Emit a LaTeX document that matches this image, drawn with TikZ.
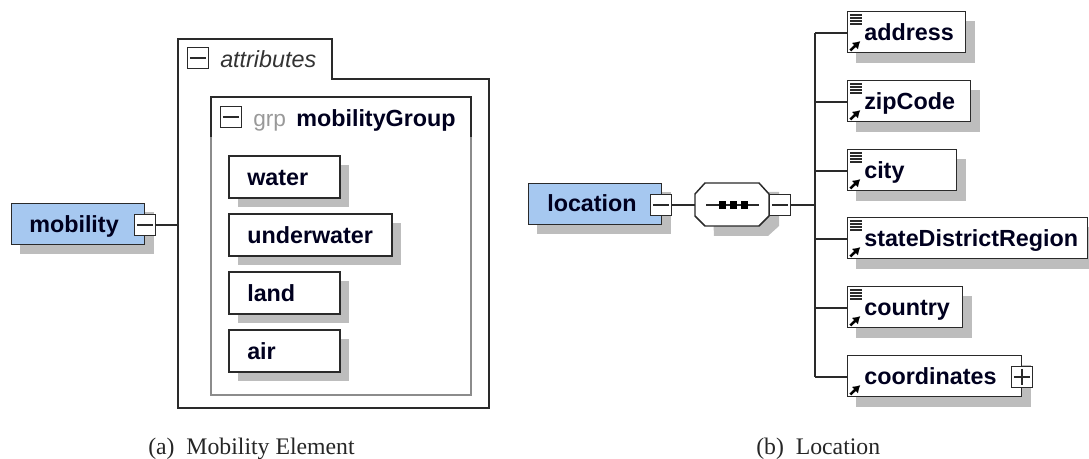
\documentclass[tikz,border=0pt]{standalone}
\usepackage{fontspec}
\setmainfont{Liberation Serif}
\setsansfont{Liberation Sans}
\usetikzlibrary{positioning,arrows.meta}
\definecolor{elemBlue}{HTML}{A6C8F0}
\definecolor{shadowGrey}{HTML}{BDBDBD}
\definecolor{lineDark}{HTML}{2A2A2A}

\newcommand{\pmBox}[2]{%
  \node [toggle] (#1) at (#2) {};
  \draw [toggleMark] (#1.west) -- (#1.east);
}
\newcommand{\arrowMark}[1]{%
  \draw [black,line width=1.9pt,-{Latex[length=5.5pt,width=7pt]}] ([xshift=2.5pt,yshift=2pt]#1.south west) -- ++(7.5pt,7pt);
}

\begin{document}
\begin{tikzpicture}[
    x=0.75pt,
    y=-0.75pt,
    elem/.style={%
      draw=lineDark,
      rectangle,
      line width=1.1pt,
      fill=white,
      minimum height=30.5pt,
      inner sep=0pt,
    },
    boldText/.style={%
      anchor=base west,
      inner sep=0pt,
      font=\sffamily\bfseries\fontsize{17.5}{19}\selectfont,
      text=black!88!blue,
    },
    toggle/.style={%
      draw=lineDark,
      rectangle,
      line width=1.1pt,
      fill=white,
      minimum width=16pt,
      minimum height=16pt,
      inner sep=0pt,
    },
    toggleMark/.style={%
      draw=lineDark,
      line width=0.9pt,
      shorten <=2.5pt,
      shorten >=2.5pt,
    },
    conn/.style={%
      draw=lineDark,
      line width=1.1pt,
    },
    caption/.style={%
      anchor=base west,
      font=\rmfamily\fontsize{17.8}{20}\selectfont,
      text=black!85,
      inner sep=0pt,
    },
  ]
    \useasboundingbox (0,0) rectangle (1089,459);

    % left part
    \fill [shadowGrey] (20,212) rectangle (154,254);
    \node [elem,fill=elemBlue,minimum width=99.5pt] (mobility) at (78,224) {};
    \node [boldText] (mobilityLabel) at (29,233) {mobility};
    \pmBox{mobilityToggle}{145,225}

    \draw [conn] (178,39) -- (332,39) -- (332,79) -- (489,79) -- (489,408) -- (178,408) -- cycle;
    \coordinate (attrEdge) at (178,225);
    \draw [conn] (mobilityToggle) -- (attrEdge);
    \pmBox{attrToggle}{198,58}
    \node [anchor=base west,inner sep=0pt,font=\sffamily\itshape\fontsize{17.5}{19}\selectfont,text=black!80] (attrLabel) at (220,68) {attributes};

    \draw [black!45,line width=1.1pt] (211,137) -- (211,395) -- (471,395) -- (471,137);
    \draw [conn] (211,137) -- (211,97) -- (471,97) -- (471,137);
    \pmBox{grpToggle}{231,117}
    \node [anchor=base west,inner sep=0pt,font=\sffamily\fontsize{17}{19}\selectfont,text=black!40] (grpLabel) at (253,127) {grp};
    \node [boldText] (grpName) at (296,127) {mobilityGroup};

    \foreach \nm/\xa/\ya/\xb in {water/229/156/340,underwater/229/214/392,land/229/272/340,air/229/330/340} {
      \fill [shadowGrey] (\xa+9,\ya+9) rectangle (\xb+9,\ya+51);
      \draw [conn,fill=white] (\xa,\ya) rectangle (\xb,\ya+42);
      \node [boldText] (\nm) at (\xa+18,\ya+30) {\nm};
    }

    % right part
    \fill [shadowGrey] (537,192) rectangle (671,234);
    \node [elem,fill=elemBlue,minimum width=99.5pt] (location) at (595,204) {};
    \node [boldText] (locationLabel) at (547,212) {location};
    \pmBox{locationToggle}{661,205}

    \fill [shadowGrey] (712,192) -- (779,192) -- (779,226) -- (768,236) -- (714,236) -- cycle;
    \draw [conn,fill=white] (695,194) -- (705,183) -- (759,183) -- (769,194) -- (769,216) -- (759,226) -- (705,226) -- (695,216) -- cycle;
    \coordinate (seqLeft) at (695,205);
    \draw [conn] (locationToggle) -- (seqLeft);
    \draw [conn] (706,205) -- (759,205);
    \foreach \x in {722,733,744} \fill [black] (\x-3.5,201) rectangle (\x+3.5,209);
    \pmBox{seqToggle}{780,205}

    \coordinate (trunk) at (815,205);
    \draw [conn] (seqToggle) -- (trunk);
    \draw [conn] (815,33) -- (815,377);

    \foreach \nm/\y/\xb in {address/33/966,zipCode/102/971,city/171/957,stateDistrictRegion/239/1088,country/308/963,coordinates/377/1022} {
      \fill [shadowGrey] (856,\y-12) rectangle (\xb+9,\y+30);
      \node [elem,minimum width=(\xb-847)*0.75pt-1pt,anchor=west] (\nm Box) at (847,\y-1) {};
      \coordinate (\nm Stub) at (815,\y);
      \draw [conn] (\nm Stub) -- (\nm Box.west |- \nm Stub);
      \node [boldText] (\nm) at (864,\y+8) {\nm};
      \arrowMark{\nm Box}
    }
    \foreach \nm in {address,zipCode,city,stateDistrictRegion,country} {
      \foreach \s in {3,5.25,7.5,9.75} {
        \draw [lineDark,line width=1pt] ([xshift=2.5pt,yshift=-\s pt]\nm Box.north west) -- ++(9pt,0pt);
      }
    }
    \node [toggle] (coordToggle) at (1022,377) {};
    \draw [toggleMark] (coordToggle.west) -- (coordToggle.east);
    \draw [toggleMark] (coordToggle.north) -- (coordToggle.south);

    % captions
    \node [caption] (capA) at (148,455) {(a)\ \ Mobility Element};
    \node [caption] (capB) at (756,455) {(b)\ \ Location};
\end{tikzpicture}
\end{document}
